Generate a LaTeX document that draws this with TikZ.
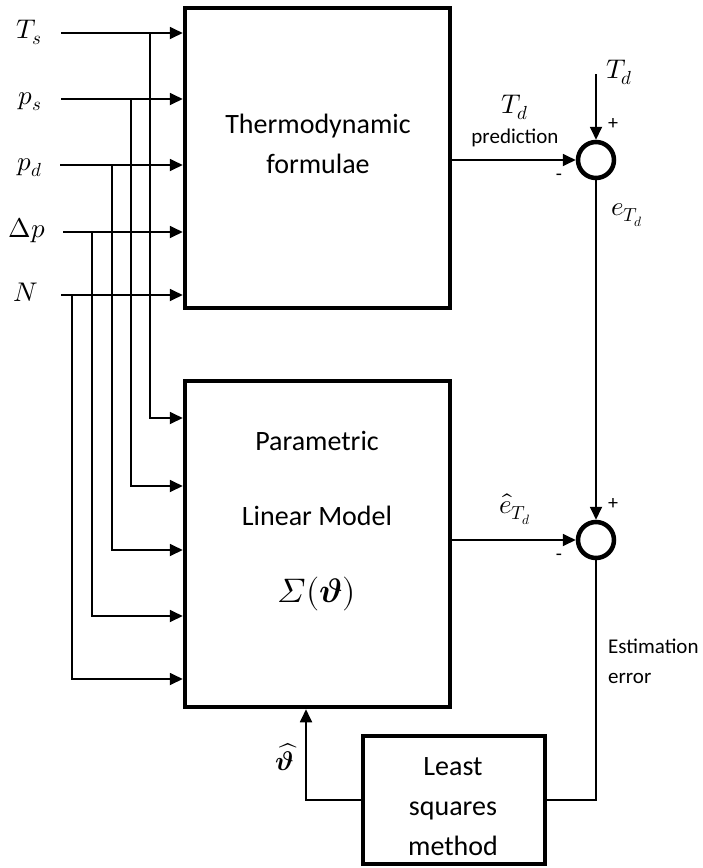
\documentclass[tikz,border=0pt]{standalone}
\usepackage{amsmath}
\usepackage{fontspec}
\usepackage{unicode-math}
\setmainfont{Carlito}
\setmathfont{Latin Modern Math}
\usetikzlibrary{arrows.meta}
\begin{document}
\begin{tikzpicture}[x=1pt,y=-1pt,
  blk/.style={draw,line width=4.5pt,inner sep=0pt,outer sep=2.25pt},
  sumn/.style={circle,draw,line width=4.5pt,minimum size=36pt,inner sep=0pt,outer sep=2.25pt},
  conn/.style={line width=1.8pt},
  arr/.style={conn,-{Triangle[length=13pt,width=12pt]}},
  txt/.style={anchor=base,inner sep=0pt,font=\fontsize{28}{34}\selectfont},
  mlab/.style={anchor=base,inner sep=0pt,font=\fontsize{27}{31}\selectfont},
  small/.style={anchor=base,inner sep=0pt,font=\fontsize{21}{25}\selectfont},
  sign/.style={anchor=center,inner sep=0pt,font=\fontsize{20}{24}\selectfont}]
\useasboundingbox (0,0) rectangle (702,868);
% blocks
\node[blk,minimum width=265pt,minimum height=300pt] (thermo) at (317.5,158) {};
\node[blk,minimum width=265pt,minimum height=326pt] (lm) at (317.5,544) {};
\node[blk,minimum width=182pt,minimum height=128pt] (ls) at (454,800) {};
\node[sumn] (s1) at (596,160) {};
\node[sumn] (s2) at (596,540) {};
% block texts
\node[txt] (t1) at (318,133) {Thermodynamic};
\node[txt] (t2) at (318,173) {formulae};
\node[txt] (p1) at (317,450) {Parametric};
\node[txt] (p2) at (317,525) {Linear Model};
\node[anchor=base,inner sep=0pt,font=\fontsize{34}{40}\selectfont] (p3) at (317,602) {$\symit{\Sigma}(\symbfit{\vartheta})$};
\node[txt] (l1) at (453,775) {Least};
\node[txt] (l2) at (453,815) {squares};
\node[txt] (l3) at (453,855) {method};
% input labels
\node[mlab] (lTs) at (29,38) {$T_s$};
\node[mlab] (lps) at (30,104) {$p_s$};
\node[mlab] (lpd) at (30,170) {$p_d$};
\node[mlab] (ldp) at (27,237) {$\Delta p$};
\node[mlab] (lN) at (26,301) {$N$};
% input coordinates
\coordinate (iTs) at (61,33);
\coordinate (ips) at (61,99);
\coordinate (ipd) at (60,165);
\coordinate (idp) at (63,232);
\coordinate (iN) at (61,295);
\coordinate (bTs) at (150,33);
\coordinate (bps) at (131,99);
\coordinate (bpd) at (112,165);
\coordinate (bdp) at (92,232);
\coordinate (bN) at (72,295);
\coordinate (yTs) at (0,418);
\coordinate (yps) at (0,486);
\coordinate (ypd) at (0,550);
\coordinate (ydp) at (0,616);
\coordinate (yN) at (0,679);
% inputs to thermodynamic block
\draw[arr] (iTs) -- (iTs -| thermo.west);
\draw[arr] (ips) -- (ips -| thermo.west);
\draw[arr] (ipd) -- (ipd -| thermo.west);
\draw[arr] (idp) -- (idp -| thermo.west);
\draw[arr] (iN) -- (iN -| thermo.west);
% branches to linear model
\draw[arr] (bTs) |- (lm.west |- yTs);
\draw[arr] (bps) |- (lm.west |- yps);
\draw[arr] (bpd) |- (lm.west |- ypd);
\draw[arr] (bdp) |- (lm.west |- ydp);
\draw[arr] (bN) |- (lm.west |- yN);
% right side
\coordinate (tdin) at (596,74);
\draw[arr] (tdin) -- (s1);
\draw[arr] (thermo.east |- s1) -- (s1);
\draw[arr] (s1) -- (s2);
\draw[arr] (lm.east |- s2) -- (s2);
\draw[conn] (s2) |- (ls.east);
\coordinate (thx) at (306,0);
\draw[arr] (ls.west) -| (thx |- lm.south);
% labels right side
\node[mlab,anchor=base west] (lTd) at (606,78) {$T_d$};
\node[mlab] (lTdp) at (515,113) {$T_d$};
\node[small] (lpred) at (515,143) {prediction};
\node[sign] (pl1) at (613,124) {+};
\node[sign] (mi1) at (559,177) {-};
\node[mlab] (le) at (627,215) {$e_{T_d}$};
\node[mlab] (leh) at (515,513) {$\hat{e}_{T_d}$};
\node[sign] (pl2) at (613,504) {+};
\node[sign] (mi2) at (559,557) {-};
\node[small,anchor=base west] (est1) at (608,653) {Estimation};
\node[small,anchor=base west] (est2) at (608,683) {error};
\node[mlab] (lth) at (285,770) {$\widehat{\symbfit{\vartheta}}$};
\end{tikzpicture}
\end{document}
